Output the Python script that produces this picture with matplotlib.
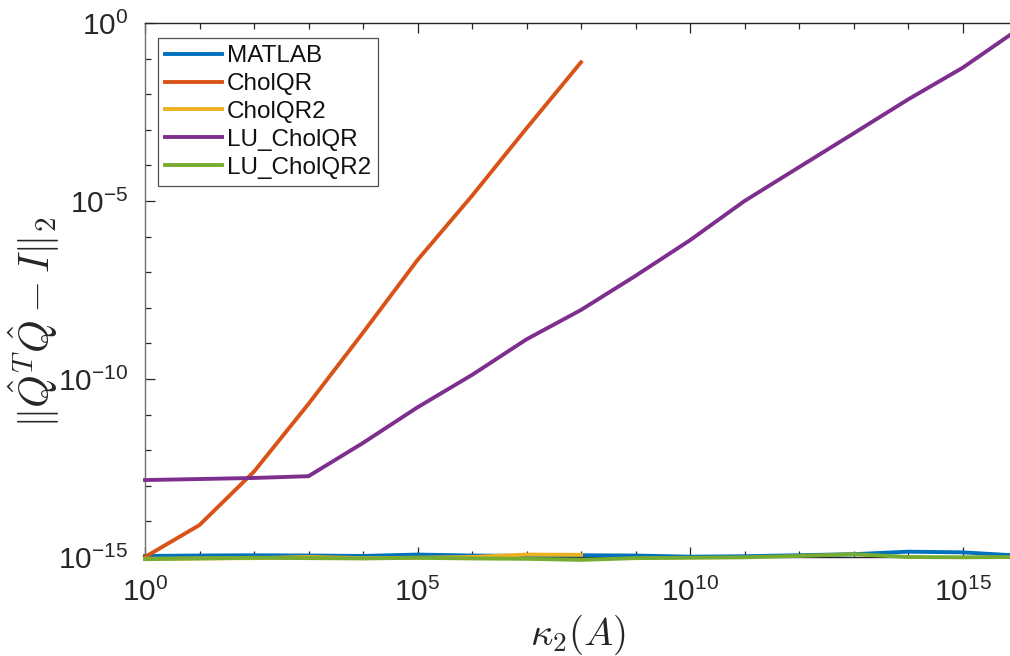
import numpy as np
import matplotlib
matplotlib.use("Agg")
import matplotlib.pyplot as plt
from matplotlib.ticker import FixedLocator, LogLocator, NullFormatter, LogFormatterSciNotation

# condition numbers kappa_2(A)
kappa = [1e0, 1e1, 1e2, 1e3, 1e4, 1e5, 1e6, 1e7, 1e8,
         1e9, 1e10, 1e11, 1e12, 1e13, 1e14, 1e15, 1e16]

# orthogonality error ||Q^T Q - I||_2 for each method
err_matlab = [1.07e-15, 1.10e-15, 1.12e-15, 1.10e-15, 1.07e-15, 1.17e-15, 1.10e-15, 1.07e-15, 1.12e-15,
              1.10e-15, 1.02e-15, 1.05e-15, 1.12e-15, 1.20e-15, 1.41e-15, 1.35e-15, 1.10e-15]
err_cholqr = [1.0e-15, 7.9e-15, 2.5e-13, 2.0e-11, 2.0e-9, 2.2e-7, 1.4e-5, 1.1e-3, 7.9e-2]
err_cholqr2 = [0.89e-15, 0.91e-15, 0.93e-15, 1.0e-15, 0.93e-15, 0.95e-15, 1.0e-15, 1.17e-15, 1.15e-15]
err_lu_cholqr = [1.45e-13, 1.55e-13, 1.66e-13, 1.86e-13, 1.6e-12, 1.6e-11, 1.3e-10, 1.3e-9, 8.7e-9,
                 7.9e-8, 7.9e-7, 1.0e-5, 8.9e-5, 7.9e-4, 7.1e-3, 5.5e-2, 6.3e-1]
err_lu_cholqr2 = [0.87e-15, 0.91e-15, 0.95e-15, 0.93e-15, 0.91e-15, 0.95e-15, 0.91e-15, 0.89e-15, 0.83e-15,
                  0.93e-15, 0.95e-15, 0.98e-15, 1.07e-15, 1.20e-15, 1.0e-15, 0.98e-15, 1.0e-15]

labels = ["MATLAB", "CholQR", "CholQR2", "LU_CholQR", "LU_CholQR2"]
colors = [(0, 0.447, 0.741), (0.85, 0.325, 0.098), (0.929, 0.694, 0.125),
          (0.494, 0.184, 0.556), (0.466, 0.674, 0.188)]

plt.rcParams["font.family"] = ["Liberation Sans", "DejaVu Sans"]
plt.rcParams["mathtext.fontset"] = "cm"
plt.rcParams["axes.edgecolor"] = "#262626"

fig = plt.figure(figsize=(10.10, 6.56), dpi=100)
ax = fig.add_axes([145 / 1010, 99 / 656, 872 / 1010, 534 / 656])

series = [(kappa, err_matlab), (kappa[:len(err_cholqr)], err_cholqr),
          (kappa[:len(err_cholqr2)], err_cholqr2), (kappa, err_lu_cholqr),
          (kappa, err_lu_cholqr2)]
for (xs, ys), lab, col in zip(series, labels, colors):
    ax.plot(xs, ys, color=col, lw=2.8, label=lab, clip_on=False, zorder=3,
            solid_joinstyle="round")

ax.set_xscale("log")
ax.set_yscale("log")
ax.set_xlim(1e0, 1e16)
ax.set_ylim(1e-15, 1e0)

tick_col = "#262626"
ax.xaxis.set_major_locator(FixedLocator([1e0, 1e5, 1e10, 1e15]))
ax.yaxis.set_major_locator(FixedLocator([1e-15, 1e-10, 1e-5, 1e0]))
ax.xaxis.set_minor_locator(LogLocator(base=10, subs=(1.0,), numticks=40))
ax.yaxis.set_minor_locator(LogLocator(base=10, subs=(1.0,), numticks=40))
ax.xaxis.set_major_formatter(LogFormatterSciNotation())
ax.yaxis.set_major_formatter(LogFormatterSciNotation())
ax.xaxis.set_minor_formatter(NullFormatter())
ax.yaxis.set_minor_formatter(NullFormatter())
ax.tick_params(which="both", direction="in", top=True, right=False, colors=tick_col, width=0.9)
ax.tick_params(which="major", length=7, labelsize=21.5)
ax.tick_params(axis="x", which="major", pad=15)
ax.tick_params(axis="y", which="major", pad=12)
ax.tick_params(which="minor", length=4)
for sp in ax.spines.values():
    sp.set_linewidth(1.0)
ax.spines["left"].set_color("#707070")

ax.set_xlabel(r"$\kappa_2(A)$", fontsize=28, color="#262626")
ax.set_ylabel(r"$\|\hat{Q}^T\hat{Q}-I\|_2$", fontsize=30, color="#262626")
ax.xaxis.set_label_coords(0.497, -0.105)
ax.yaxis.set_label_coords(-0.095, 0.44)

leg = ax.legend(loc="upper left", bbox_to_anchor=(0.0145, 0.972), fontsize=17.5,
                frameon=True, fancybox=False, handlelength=2.35, handletextpad=0.2,
                labelspacing=0.24, borderpad=0.3, borderaxespad=0.0)
leg.get_frame().set_edgecolor("#262626")
leg.get_frame().set_linewidth(0.9)
for t in leg.get_texts():
    t.set_color("#111111")

fig.savefig("out.png", dpi=100)
